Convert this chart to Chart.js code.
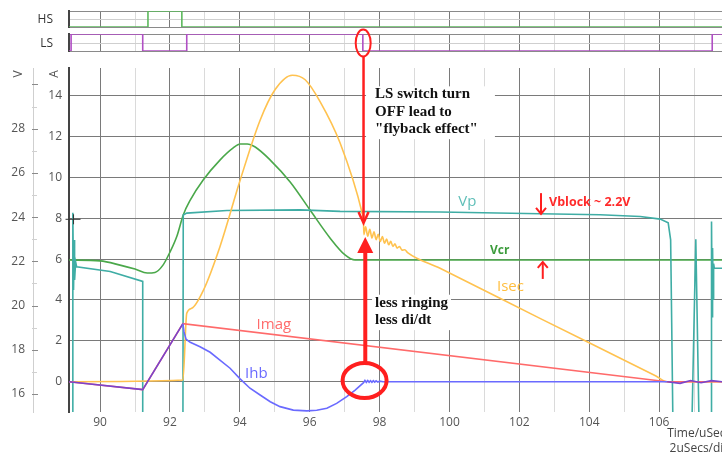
<!DOCTYPE html>
<html><head><meta charset="utf-8">
<script src="https://cdn.jsdelivr.net/npm/chart.js@4.4.1/dist/chart.umd.min.js"></script>
<style>
html,body{margin:0;padding:0;background:#fff;overflow:hidden}
#wrap{position:relative;width:722px;height:456px}
#wrap canvas{position:absolute;left:0}
</style></head><body>
<div id="wrap">
<canvas id="hs" width="722" height="30" style="top:0"></canvas>
<canvas id="ls" width="722" height="28" style="top:28px"></canvas>
<canvas id="main" width="722" height="456" style="top:0;z-index:2"></canvas>
</div>
<script>
// ---------- data ----------
const T_MIN = 89.11, T_MAX = 107.8;
const xTickValues = [90,91,92,93,94,95,96,97,98,99,100,101,102,103,104,105,106,107];
const aTickValues = [0,2,4,6,8,10,12,14];
const vTickValues = [16,17,18,19,20,21,22,23,24,25,26,27,28,29,30];

const hsTime  = [89.11, 91.37, 92.34, 107.8];
const hsLevel = [0, 1, 0, 0];
const lsTime  = [89.11, 89.17, 91.22, 92.48, 97.52, 107.52, 107.8];
const lsLevel = [0, 1, 0, 1, 0, 1, 1];

const vpTime = [89.11,89.20,89.22,89.24,89.26,89.27,89.30,89.33,90.29,91.22,91.22,92.37,92.38,92.48,93.63,95.72,96.87,99.73,102.59,104.31,105.46,106.03,106.26,106.33,106.36,106.40,106.93,107.05,107.15,107.49,107.50,107.52,107.53,107.55,107.56,107.58,107.80];
const vpVolt = [14,14,24.2,20.7,22.97,21.16,21.98,21.75,21.54,21.09,14,14,24.1,24.18,24.30,24.33,24.26,24.23,24.15,24.11,24.03,23.91,23.74,22.97,19.22,14,14,23.0,14,14,23.8,19.5,22.6,20.3,21.9,21.69,21.69];

const vcrTime = [89.11,90.0,90.57,91.0,91.35,91.57,91.80,92.0,92.20,92.38,92.58,92.95,93.43,93.81,94.01,94.21,94.44,94.87,95.44,96.01,96.58,97.01,97.30,107.80];
const vcrVolt = [22.06,22.02,21.83,21.65,21.47,21.50,21.83,22.42,23.15,24.10,24.77,25.68,26.58,27.13,27.31,27.31,27.17,26.58,25.59,24.32,23.06,22.29,22.06,22.06];

const isecTime = [89.11,92.37,92.48,92.62,92.96,93.43,94.01,94.58,95.01,95.50,95.87,96.30,96.87,97.50,97.54,97.55,97.60,97.66,97.72,97.78,97.84,97.90,97.96,98.02,98.08,98.14,98.20,98.26,98.32,98.38,98.44,98.50,98.57,98.64,98.72,98.80,99.73,102.59,105.91,106.23,107.80];
const isecAmp  = [0,0.08,3.35,3.59,4.49,6.61,9.87,12.8,14.3,15.0,14.78,13.7,11.68,8.26,7.82,7.20,7.58,7.12,7.46,7.03,7.34,6.95,7.22,6.86,7.10,6.78,6.98,6.70,6.87,6.62,6.75,6.54,6.62,6.44,6.46,6.32,5.55,3.10,0.28,0,0];

const imagTime = [89.11, 91.22, 92.37, 106.23, 107.80];
const imagAmp  = [0, -0.39, 2.84, 0, 0];

const ihbTime = [89.11,91.22,92.37,92.40,92.46,92.58,92.86,93.15,93.43,93.72,94.0,94.29,94.58,94.87,95.15,95.53,95.92,96.20,96.49,96.77,97.06,97.30,97.54,97.58,97.62,97.66,97.70,97.74,97.78,97.82,97.86,97.90,97.95,98.0,98.1,106.23,106.6,106.9,107.2,107.5,107.8];
const ihbAmp  = [0,-0.39,2.84,2.45,2.08,1.93,1.71,1.44,1.06,0.66,0.15,-0.32,-0.65,-0.98,-1.22,-1.39,-1.43,-1.40,-1.30,-1.06,-0.73,-0.41,-0.05,0.06,-0.03,0.06,-0.03,0.05,-0.03,0.05,-0.02,0.04,-0.02,0.03,0,0,-0.08,0.06,-0.05,0.05,0.0];

// ---------- style ----------
const C_VP='#3fada5', C_VCR='#4aa84a', C_ISEC='#ffc24f', C_IMAG='#ff6a6a', C_IHB='#6a6aff', C_OVL='#7a44cc';
const RED='#ff1f1f';
Chart.defaults.font.family='"Open Sans", sans-serif';
Chart.defaults.color='#555';

const pts=(xs,ys)=>xs.map((t,i)=>({x:t,y:ys[i]}));
const noPad=s=>{s.paddingTop=0;s.paddingBottom=0;s.paddingLeft=0;s.paddingRight=0;};

function xScale(showLabels){
  return {type:'linear',min:T_MIN,max:T_MAX,
    afterBuildTicks:s=>{s.ticks=xTickValues.map(v=>({value:v}));},
    ticks:{display:showLabels,autoSkip:false,maxRotation:0,padding:3,color:'#555',font:{size:12},
      callback:v=>(v%2===0&&v<=106)?String(v):''},
    grid:{drawTicks:false,lineWidth:1,color:c=>(c.tick&&c.tick.value%2===0)?'#7a7a7a':'#dadada'},
    border:{display:false},
    afterFit:s=>{s.height=showLabels?20:0;noPad(s);}
  };
}

function digital(id, name, times, levels, color, padTop, padBottom){
  new Chart(document.getElementById(id),{
    type:'line',
    data:{datasets:[{data:pts(times,levels),stepped:true,borderColor:color,borderWidth:1.6,pointRadius:0}]},
    options:{responsive:false,animation:false,events:[],
      layout:{padding:{top:padTop,bottom:padBottom,left:0,right:0}},
      plugins:{legend:{display:false},tooltip:{enabled:false}},
      scales:{
        x:xScale(false),
        y:{type:'linear',min:0,max:1,
          afterBuildTicks:s=>{s.ticks=[0,0.45,1].map(v=>({value:v}));},
          ticks:{autoSkip:false,padding:16,color:'#333',font:{size:12},callback:v=>v===0.45?name:''},
          grid:{drawTicks:false,color:c=>(c.tick&&c.tick.value===0.45)?'#cfcfcf':'#8a8a8a'},
          border:{color:'#444',width:2},
          afterFit:s=>{s.width=69;noPad(s);}
        }
      }
    }
  });
}
digital('hs','HS',hsTime,hsLevel,'#5cb85c',11,3);
digital('ls','LS',lsTime,lsLevel,'#b04fc4',6,5);

// ---------- annotations ----------
const notes=[
  {lines:['LS switch turn','OFF lead to','"flyback effect"'],t:97.87,a:13.87,pad:[9,17,12,6]},
  {lines:['less ringing','less di/dt'],t:97.87,a:3.67,pad:[3,3,12,6]}
];
const seriesLabels=[
  {text:'Vp',t:100.25,a:8.59,color:'#5fbfb8',font:'15px "Open Sans"'},
  {text:'Vcr',t:101.16,a:6.25,color:'#3c9c3c',font:'bold 12px "Open Sans"'},
  {text:'Isec',t:101.36,a:4.44,color:'#ffbe3f',font:'15px "Open Sans"'},
  {text:'Imag',t:94.48,a:2.58,color:'#ff6b6b',font:'15px "Open Sans"'},
  {text:'Ihb',t:94.15,a:0.18,color:'#6a6aff',font:'15px "Open Sans"'},
  {text:'Vblock ~ 2.2V',t:102.85,a:8.6,color:'#ff2a2a',font:'bold 12.5px "Open Sans"'}
];

function seg(ctx,x1,y1,x2,y2,w,c){ctx.beginPath();ctx.moveTo(x1,y1);ctx.lineTo(x2,y2);ctx.lineWidth=w;ctx.strokeStyle=c;ctx.stroke();}
function openArrow(ctx,x,y1,y2,w,hw,hl,c){
  const d=y2>y1?1:-1;
  seg(ctx,x,y1,x,y2,w,c);
  ctx.beginPath();ctx.moveTo(x-hw,y2-d*hl);ctx.lineTo(x,y2);ctx.lineTo(x+hw,y2-d*hl);
  ctx.lineWidth=w;ctx.strokeStyle=c;ctx.stroke();
}
function filledArrow(ctx,x,y1,y2,w,hw,hl,c){
  const d=y2>y1?1:-1;
  seg(ctx,x,y1,x,y2-d*hl*0.8,w,c);
  ctx.beginPath();ctx.moveTo(x-hw,y2-d*hl);ctx.lineTo(x,y2);ctx.lineTo(x+hw,y2-d*hl);ctx.closePath();
  ctx.fillStyle=c;ctx.fill();
}
function ellipse(ctx,x,y,rx,ry,w,c){ctx.beginPath();ctx.ellipse(x,y,rx,ry,0,0,Math.PI*2);ctx.lineWidth=w;ctx.strokeStyle=c;ctx.stroke();}

const annot={
  id:'annot',
  afterDraw(chart){
    const ctx=chart.ctx, xs=chart.scales.x, ya=chart.scales.yA, yv=chart.scales.yV, ca=chart.chartArea;
    const X=t=>xs.getPixelForValue(t), Y=a=>ya.getPixelForValue(a);
    ctx.save();
    // V axis tick marks
    vTickValues.forEach(v=>{
      const y=Math.round(yv.getPixelForValue(v))+0.5, major=v%2===0;
      seg(ctx,yv.right-1,y,yv.right+(major?5:4),y,1,major?'#8a8a8a':'#d0d0d0');
    });
    // axis titles
    ctx.fillStyle='#555';ctx.font='12px "Open Sans"';ctx.textAlign='center';ctx.textBaseline='middle';
    [[yv.left+19,'V'],[ya.left+21.5,'A']].forEach(([x,s])=>{
      ctx.save();ctx.translate(x,ca.top+6);ctx.rotate(-Math.PI/2);ctx.fillText(s,0,0);ctx.restore();
    });
    // time axis caption
    ctx.textAlign='left';ctx.textBaseline='alphabetic';ctx.fillStyle='#444';ctx.font='12px "Open Sans"';
    ctx.fillText('Time/uSecs',X(106.23),ca.bottom+25);
    ctx.fillText('2uSecs/div',X(106.3),ca.bottom+40);
    // cursor cross
    seg(ctx,X(89.24)-8,Y(7.95),X(89.24)+7,Y(7.95),1,'#333');
    seg(ctx,X(89.24),Y(7.95)-5,X(89.24),Y(7.95)+5,1,'#333');
    // boxed notes
    ctx.font='bold 15px "Liberation Serif"';
    notes.forEach(n=>{
      const x=X(n.t), y0=Y(n.a), lh=17.4;
      const w=Math.max(...n.lines.map(s=>ctx.measureText(s).width));
      const yl=y0+lh*(n.lines.length-1);
      ctx.fillStyle='#fff';
      ctx.fillRect(x-n.pad[0],y0-n.pad[2],w+n.pad[0]+n.pad[1],yl-y0+n.pad[2]+n.pad[3]);
      ctx.fillStyle='#111';
      n.lines.forEach((s,i)=>ctx.fillText(s,x,y0+i*lh));
    });
    // series labels
    seriesLabels.forEach(l=>{ctx.font=l.font;ctx.fillStyle=l.color;ctx.fillText(l.text,X(l.t),Y(l.a));});
    // red marks
    ctx.lineCap='butt';
    ellipse(ctx,X(97.53),Y(16.58),7.5,13.5,2,RED);
    openArrow(ctx,X(97.54),Y(15.91),Y(7.77),2.5,5,11,RED);
    ellipse(ctx,X(97.57),Y(0.06),22,17.5,4,RED);
    filledArrow(ctx,X(97.59),Y(0.92),Y(7.08),4,8,16,RED);
    openArrow(ctx,X(102.62),Y(9.23),Y(8.21),2,5,6,RED);
    openArrow(ctx,X(102.67),Y(5.03),Y(5.86),2,5,6,RED);
    ctx.restore();
  }
};

const ovlStart=imagTime[2], ovlEnd=imagTime[3];
new Chart(document.getElementById('main'),{
  type:'line',
  data:{datasets:[
    {label:'Ihb',data:pts(ihbTime,ihbAmp),yAxisID:'yA',borderColor:C_IHB,borderWidth:1.6,pointRadius:0,
      segment:{borderColor:c=>(c.p1.parsed.x<=ovlStart+0.001||c.p0.parsed.x>=ovlEnd-0.001)?C_OVL:undefined}},
    {label:'Imag',data:pts(imagTime,imagAmp),yAxisID:'yA',borderColor:C_IMAG,borderWidth:1.6,pointRadius:0},
    {label:'Isec',data:pts(isecTime,isecAmp),yAxisID:'yA',borderColor:C_ISEC,borderWidth:1.6,pointRadius:0,cubicInterpolationMode:'monotone'},
    {label:'Vp',data:pts(vpTime,vpVolt),yAxisID:'yV',borderColor:C_VP,borderWidth:1.6,pointRadius:0},
    {label:'Vcr',data:pts(vcrTime,vcrVolt),yAxisID:'yV',borderColor:C_VCR,borderWidth:1.6,pointRadius:0,cubicInterpolationMode:'monotone'}
  ]},
  options:{responsive:false,animation:false,events:[],
    layout:{padding:{top:68,bottom:24,left:0,right:0}},
    plugins:{legend:{display:false},tooltip:{enabled:false}},
    scales:{
      x:xScale(true),
      yV:{type:'linear',position:'left',weight:2,min:15.186,max:30.745,
        afterBuildTicks:s=>{s.ticks=vTickValues.map(v=>({value:v}));},
        ticks:{autoSkip:false,padding:8,color:'#555',font:{size:12},callback:v=>(v%2===0&&v<=28)?String(v):''},
        grid:{display:false,drawTicks:false},
        border:{display:true,color:'#cfcfcf',width:1},
        afterFit:s=>{s.width=33;noPad(s);}
      },
      yA:{type:'linear',position:'left',weight:1,min:-1.483,max:15.355,
        afterBuildTicks:s=>{s.ticks=aTickValues.map(v=>({value:v}));},
        ticks:{autoSkip:false,padding:7,color:'#555',font:{size:12}},
        grid:{drawTicks:false,color:'#7a7a7a',lineWidth:1},
        border:{display:true,color:'#444',width:2},
        afterFit:s=>{s.width=36;noPad(s);}
      }
    }
  },
  plugins:[annot]
});
</script>
</body></html>
